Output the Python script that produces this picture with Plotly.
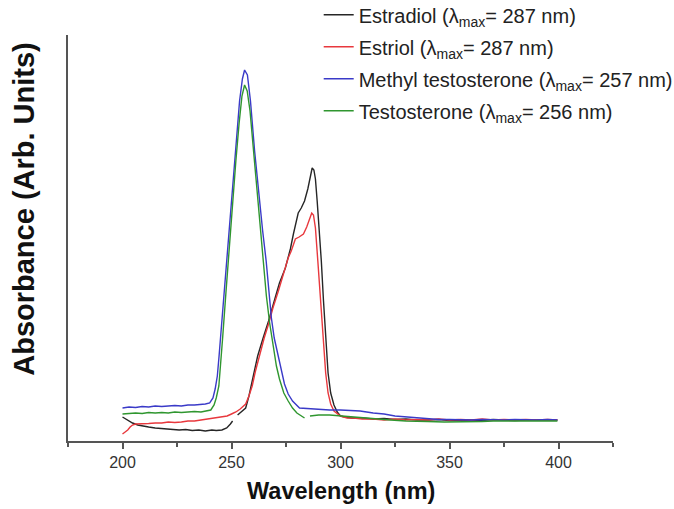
import plotly.graph_objects as go

# ---------------- data ----------------
estradiol_x = [200, 202, 204.6, 207, 209, 212, 215, 218, 220, 223, 226, 229, 232, 235, 238, 241, 243,
               245.6, 247.8, 249.5, 250.5, 251.5, 252.8, 254.5, 256.5, 258, 260, 262, 264.5, 267, 270,
               272, 274.7, 277, 278.4, 280.6, 282, 283.5, 285, 286.2, 287, 287.8, 288.5, 289.3, 290.2,
               291.2, 292.2, 293.2, 294.3, 295.5, 297, 298.5, 300, 302, 305, 310, 315, 320, 325, 330,
               335, 340, 345, 350, 355, 360, 365, 370, 375, 380, 385, 390, 395, 399.5]
estradiol_y = [24, 21, 18, 16, 15, 14, 13, 12.5, 12, 12, 11, 11.5, 10.5, 11, 10, 11, 10.5,
               11, 13, 17, 20, None, 26, 29, 33, 45, 65, 85, 103, 120, 143,
               158, 173, 192, 207, 228, 233, 240, 252, 265, 273, 271, 262, 240, 215,
               180, 140, 100, 68, 48, 36, 29, 25, 24, 23, 23, 22, 22.5, 21.5, 22,
               21, 21, 21.5, 20.5, 21, 21, 20.5, 21.5, 21, 20.5, 21, 21, 20.5, 21]

estriol_x = [200, 201.5, 202.4, 203.5, 204.6, 206, 209, 212, 215, 218, 221, 224, 227, 230, 233, 236,
             239, 242, 245, 248, 250, 252, 254, 256.5, 258, 259.5, 261, 263, 265, 267, 269, 271.5,
             274, 276, 277.4, 279.3, 281, 283, 284.5, 285.8, 286.8, 287.6, 288.5, 289.6, 290.8,
             292, 293.2, 294.3, 295.5, 297, 298.5, 300, 303, 306, 310, 315, 320, 325, 330, 335,
             340, 345, 350, 355, 360, 365, 370, 375, 380, 385, 390, 395, 399.5]
estriol_y = [7, 9, 11, 14, 16, 17, 17, 17.5, 18, 18, 19, 18.5, 19, 20, 20, 21,
             21.5, 23, 23.5, 25, 27, 29, 32, 37, 45, 55, 70, 88, 103, 117, 133, 150,
             168, 183, 190, 202, 204, 207, 214, 222, 228, 226, 213, 180, 140,
             100, 68, 48, 37, 30, 27, 25, 23, 23, 22, 22, 21, 22, 21, 21.5,
             21, 22, 21, 21.5, 21, 22, 21, 21.5, 21, 21.5, 21, 21.5, 21]

methyl_x = [200, 203, 206, 209, 212, 215, 218, 221, 224, 227, 230, 233, 236, 238, 240, 241.5, 242.5,
            243.5, 244.3, 245.2, 246, 247, 248.2, 249.5, 251.4, 252.6, 253.7, 255, 256, 257.3,
            258.7, 260.6, 262.5, 264.3, 265.9, 267.2, 268.3, 269.6, 271.1, 272.7, 274.3, 276, 278,
            281.2, 284, 287, 290, 295, 300, 305, 309, 315, 320, 325, 330, 335, 340, 345, 350, 355,
            360, 365, 370, 375, 380, 385, 390, 395, 399.5]
methyl_y = [33, 34, 33.5, 34.5, 34, 35, 34.5, 35, 35.5, 35, 36, 36, 36.5, 37, 38, 43, 52,
            65, 85, 110, 130, 160, 190, 225, 280, 315, 340, 362, 371, 366,
            340, 290, 245, 210, 180, 150, 123, 103, 88, 70, 57, 47, 40,
            33, 32.5, 32, 31.5, 31, 31, 30.5, 30, 28, 27, 25, 24, 23, 22, 21.5, 21.5, 21,
            21, 21.5, 21, 21, 21.5, 21, 21, 21.5, 21]

testo_x = [200, 203, 206, 209, 212, 215, 218, 221, 224, 227, 230, 233, 236, 238.5, 240.5, 242, 243,
           244.2, 245, 246, 247.5, 249, 250.5, 252, 253.5, 254.8, 256, 257.2, 258.5, 260, 261.5,
           263, 264.5, 266, 267.5, 269, 270.6, 272, 274, 276, 278, 280, 282, 283.5, 285, 286, 288,
           290, 295, 300, 305, 310, 317, 323, 330, 335, 340, 347.6, 355, 360, 365, 370, 375, 380,
           385, 390, 395, 399.5]
testo_y = [27, 27.5, 28, 27.5, 28.5, 28, 28.5, 28, 29, 28.5, 29, 29.5, 29, 30, 31, 36, 43,
           55, 75, 105, 150, 195, 240, 280, 318, 345, 356, 350, 330, 292, 253,
           215, 178, 145, 118, 95, 75, 62, 48, 40, 33, 28, 25, 23, None, 25, 25.5,
           26, 26, 25, 24, 23.5, 22, 21, 20, 20, 19.5, 19, 19, 19.5, 19.5, 20, 20, 20,
           20, 20, 20, 20]

names = [
    "Estradiol (λ<sub>max</sub>= 287 nm)",
    "Estriol (λ<sub>max</sub>= 287 nm)",
    "Methyl testosterone (λ<sub>max</sub>= 257 nm)",
    "Testosterone (λ<sub>max</sub>= 256 nm)",
]
series_x = [estradiol_x, estriol_x, methyl_x, testo_x]
series_y = [estradiol_y, estriol_y, methyl_y, testo_y]
colors = ["#262626", "#e8383d", "#3a3ac8", "#2f962f"]

x_tickvals = [200, 250, 300, 350, 400]

# ---------------- figure ----------------
fig = go.Figure()
for i, (nm, xs, ys, c) in enumerate(zip(names, series_x, series_y, colors)):
    fig.add_trace(go.Scatter(
        x=xs, y=[None if v is None else v / 100 for v in ys],
        mode="lines", name=nm, line=dict(color=c, width=1.4),
        connectgaps=False, legendgroup=f"g{i}",
    ))

fig.update_layout(
    width=674, height=509,
    margin=dict(l=68, r=61, t=35, b=68, autoexpand=False),
    paper_bgcolor="white", plot_bgcolor="white",
    font=dict(family="Liberation Sans, Arial, sans-serif", color="#222"),
    showlegend=True,
    legend=dict(
        x=0.46, y=1.098, xanchor="left", yanchor="top",
        bgcolor="rgba(0,0,0,0)", font=dict(size=20, color="#222"),
        traceorder="grouped", tracegroupgap=3, itemwidth=30,
    ),
    xaxis=dict(
        range=[175, 425], showgrid=False, zeroline=False,
        showline=True, linecolor="#555", linewidth=1.5,
        ticks="outside", ticklen=6, tickcolor="#555", tickwidth=1.5,
        tickvals=x_tickvals, tickfont=dict(size=16, color="#333"),
        minor=dict(dtick=25, tick0=175, ticks="outside", ticklen=4, tickcolor="#555", tickwidth=1.5),
    ),
    yaxis=dict(
        range=[0, 4.06], showgrid=False, zeroline=False,
        showline=True, linecolor="#555", linewidth=1.5,
        showticklabels=False, ticks="",
    ),
    annotations=[
        dict(text="<b>Wavelength (nm)</b>", xref="paper", yref="paper", x=0.5, y=0,
             yshift=-50, xanchor="center", yanchor="middle", showarrow=False,
             font=dict(size=23.5, color="#111")),
        dict(text="<b>Absorbance (Arb. Units)</b>", xref="paper", yref="paper", x=0, y=0.572,
             xshift=-44, xanchor="center", yanchor="middle", textangle=-90, showarrow=False,
             font=dict(size=29, color="#111")),
    ],
)

fig.write_html("out.html")
